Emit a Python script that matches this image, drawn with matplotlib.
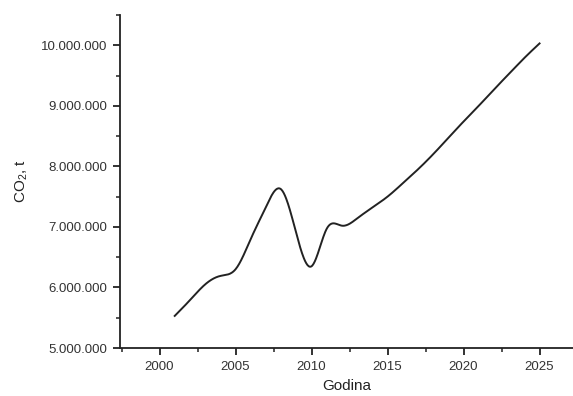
import numpy as np
import matplotlib
matplotlib.use("Agg")
import matplotlib.pyplot as plt
from matplotlib.ticker import FuncFormatter, MultipleLocator

plt.rcParams['font.family'] = ['Liberation Sans', 'DejaVu Sans']
plt.rcParams['mathtext.fontset'] = 'custom'
plt.rcParams['mathtext.rm'] = 'Liberation Sans'
plt.rcParams['mathtext.it'] = 'Liberation Sans'

years = np.arange(2001, 2026)
co2 = np.array([5.53, 5.79, 6.05, 6.19, 6.30, 6.80, 7.33, 7.62, 6.89, 6.35,
                6.97, 7.02, 7.14, 7.32, 7.50, 7.72, 7.95, 8.20, 8.47, 8.74,
                9.00, 9.27, 9.53, 9.79, 10.03]) * 1e6

x_ticks = [2000, 2005, 2010, 2015, 2020, 2025]


def natural_spline(x, y, xs):
    n = len(x)
    h = np.diff(x)
    A = np.zeros((n, n))
    b = np.zeros(n)
    A[0, 0] = 1
    A[-1, -1] = 1
    for i in range(1, n - 1):
        A[i, i - 1] = h[i - 1]
        A[i, i] = 2 * (h[i - 1] + h[i])
        A[i, i + 1] = h[i]
        b[i] = 6 * ((y[i + 1] - y[i]) / h[i] - (y[i] - y[i - 1]) / h[i - 1])
    M = np.linalg.solve(A, b)
    idx = np.clip(np.searchsorted(x, xs) - 1, 0, n - 2)
    xi, xi1 = x[idx], x[idx + 1]
    hi = xi1 - xi
    t1 = xi1 - xs
    t2 = xs - xi
    return (M[idx] * t1 ** 3 / (6 * hi) + M[idx + 1] * t2 ** 3 / (6 * hi)
            + (y[idx] / hi - M[idx] * hi / 6) * t1
            + (y[idx + 1] / hi - M[idx + 1] * hi / 6) * t2)


xs = np.linspace(years[0], years[-1], 600)
ys = natural_spline(years.astype(float), co2, xs)

fig = plt.figure(figsize=(5.73, 3.96), dpi=100)
ax = fig.add_axes([0.2094, 0.1212, 0.7906, 0.841])
ax.plot(xs, ys, color='#222222', lw=1.4)

ax.set_xlim(1997.4, 2027.2)
ax.set_ylim(5e6, 10.5e6)
ax.set_xticks(x_ticks)
ax.xaxis.set_minor_locator(MultipleLocator(2.5))
ax.yaxis.set_major_locator(MultipleLocator(1e6))
ax.yaxis.set_minor_locator(MultipleLocator(5e5))
ax.yaxis.set_major_formatter(FuncFormatter(lambda v, p: f"{int(round(v)):,}".replace(',', '.')))

for s in ['top', 'right']:
    ax.spines[s].set_visible(False)
for s in ['left', 'bottom']:
    ax.spines[s].set_linewidth(1.3)
    ax.spines[s].set_color('#222222')

ax.tick_params(which='major', direction='out', length=5, width=1.3, color='#222222',
               labelsize=9.5, labelcolor='#333333', pad=4)
ax.tick_params(which='minor', direction='out', length=3, width=1.1, color='#222222')

ax.set_xlabel('Godina', fontsize=11, color='#222222', labelpad=5)
ax.set_ylabel(r'CO$_2$, t', fontsize=11, color='#222222', labelpad=8)

fig.savefig('out.png', dpi=100)
